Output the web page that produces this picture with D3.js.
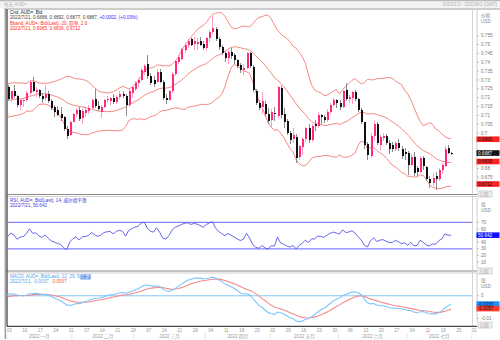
<!DOCTYPE html>
<html><head><meta charset="utf-8">
<script src="https://cdn.jsdelivr.net/npm/d3@7"></script>
<style>
body{margin:0;background:#fff}
svg{display:block}
text{font-family:"Liberation Sans","Noto Sans CJK SC",sans-serif}
</style></head>
<body><svg id="c" width="500" height="340"></svg>
<script>
// ---------- DATA ----------
// warm-up closes (Oct-Dec 2021), used only to seed the indicators
const warmupClose = [
.7240,.7290,.7280,.7270,.7300,.7310,.7340,.7330,.7390,.7410,.7420,.7430,.7480,.7500,.7460,.7460,.7490,.7490,.7500,.7530,.7520,
.7520,.7420,.7440,.7400,.7400,.7415,.7410,.7320,.7280,.7330,.7320,.7280,.7260,.7270,.7230,.7230,.7220,.7190,.7190,.7130,.7135,.7130,
.7090,.7090,.7030,.7060,.7140,.7160,.7130,.7160,.7130,.7120,.7160,.7180,.7120,.7120,.7180,.7210,.7230,.7230,.7240,.7220,.7230,.7250,.7265];

const open = [
.7262,.7192,.7235,.7210,.7160, .7180,.7188,.7225,.7288,.7230, .7245,.7210,.7200,.7220,.7180, .7145,.7130,.7110,.7090,.7025,
.6990,.7065,.7105,.7130,.7085, .7115,.7125,.7140,.7190,.7155, .7120,.7150,.7185,.7180,.7200, .7175,.7205,.7220,.7210,.7160,
.7225,.7250,.7285,.7300,.7345, .7390,.7320,.7300,.7290,.7345, .7290,.7200,.7185,.7240,.7335, .7400,.7420,.7470,.7495,.7530,
.7505,.7505,.7520,.7505,.7480, .7535,.7570,.7590,.7530,.7485, .7455,.7425,.7460,.7440,.7410, .7385,.7355,.7370,.7450,.7375,
.7240,.7170,.7150,.7165,.7110, .7075,.7115,.7095,.7255,.7105, .7070,.7000,.6965,.6980,.6865, .6920,.6965,.7030,.6960,.7050,
.7040,.7100,.7090,.7075,.7120, .7160,.7185,.7170,.7150,.7245, .7195,.7200,.7230,.7195,.7130, .7060,.6940,.6870,.6985,.7050,
.6935,.6970,.6985,.6945,.6935, .6910,.6945,.6910,.6895,.6890, .6820,.6865,.6800,.6780,.6860, .6810,.6740,.6715,.6760,.6740,
.6790,.6815,.6915,.6888];
const high = [
.7274,.7240,.7270,.7215,.7195, .7195,.7235,.7300,.7314,.7262, .7250,.7225,.7270,.7235,.7190, .7160,.7155,.7150,.7095,.7040,
.7070,.7115,.7140,.7150,.7135, .7145,.7160,.7195,.7250,.7180, .7160,.7195,.7210,.7205,.7220, .7215,.7235,.7240,.7220,.7250,
.7265,.7295,.7310,.7365,.7390, .7441,.7340,.7320,.7360,.7360, .7300,.7220,.7245,.7345,.7415, .7440,.7480,.7510,.7530,.7535,
.7540,.7535,.7540,.7520,.7545, .7580,.7661,.7600,.7545,.7500, .7465,.7470,.7480,.7455,.7420, .7395,.7390,.7460,.7460,.7385,
.7250,.7185,.7230,.7180,.7140, .7135,.7150,.7265,.7265,.7140, .7080,.7010,.7030,.6995,.6935, .6975,.7035,.7050,.7050,.7075,
.7120,.7110,.7100,.7135,.7170, .7200,.7190,.7185,.7245,.7283, .7215,.7240,.7245,.7200,.7140, .7065,.6950,.7000,.7070,.7060,
.6990,.7000,.6995,.6960,.6950, .6955,.6965,.6925,.6915,.6900, .6880,.6895,.6815,.6870,.6870, .6815,.6755,.6775,.6780,.6800,
.6830,.6925,.6935,.6892];
const low = [
.7180,.7175,.7200,.7150,.7130, .7145,.7175,.7215,.7230,.7205, .7200,.7170,.7180,.7170,.7130, .7090,.7095,.7070,.7010,.6968,
.6985,.7060,.7090,.7070,.7050, .7090,.7110,.7130,.7140,.7125, .7085,.7140,.7170,.7160,.7165, .7165,.7190,.7200,.7094,.7150,
.7200,.7235,.7260,.7295,.7330, .7305,.7270,.7260,.7280,.7280, .7185,.7165,.7180,.7225,.7320, .7390,.7410,.7455,.7480,.7490,
.7470,.7470,.7490,.7470,.7465, .7515,.7560,.7520,.7470,.7440, .7400,.7390,.7420,.7390,.7370, .7340,.7330,.7360,.7365,.7230,
.7160,.7130,.7110,.7090,.7050, .7030,.7070,.7085,.7085,.7030, .6990,.6940,.6945,.6829,.6850, .6875,.6950,.6945,.6950,.7010,
.7030,.7050,.7055,.7060,.7110, .7150,.7140,.7130,.7140,.7180, .7170,.7165,.7180,.7120,.7050, .6910,.6850,.6860,.6955,.6935,
.6905,.6955,.6930,.6880,.6895, .6900,.6900,.6855,.6845,.6765, .6815,.6760,.6760,.6775,.6790, .6730,.6690,.6700,.6681,.6730,
.6770,.6810,.6880,.6877];
const close = [
.7192,.7235,.7210,.7160,.7185, .7188,.7225,.7290,.7240,.7245, .7210,.7190,.7220,.7180,.7140, .7120,.7100,.7085,.7025,.6985,
.7065,.7105,.7130,.7080,.7125, .7130,.7140,.7185,.7155,.7135, .7150,.7185,.7195,.7200,.7175, .7205,.7220,.7210,.7160,.7235,
.7260,.7285,.7300,.7355,.7380, .7320,.7285,.7275,.7345,.7290, .7200,.7185,.7240,.7335,.7405, .7430,.7475,.7500,.7520,.7500,
.7520,.7515,.7500,.7480,.7535, .7570,.7595,.7530,.7485,.7455, .7425,.7460,.7435,.7410,.7380, .7355,.7370,.7450,.7380,.7245,
.7170,.7140,.7180,.7105,.7070, .7120,.7105,.7260,.7100,.7060, .7000,.6960,.6990,.6860,.6925, .6965,.7030,.6960,.7040,.7040,
.7100,.7090,.7075,.7120,.7160, .7185,.7170,.7150,.7240,.7195, .7205,.7230,.7195,.7130,.7065, .6935,.6875,.6985,.7050,.6945,
.6975,.6985,.6945,.6910,.6910, .6945,.6915,.6870,.6880,.6820, .6865,.6775,.6780,.6860,.6815, .6740,.6715,.6745,.6740,.6790,
.6820,.6910,.6885,.6887];

const weekLabels = ["03","10","17","24","31","07","14","21","28","07","14","21","28","04","11","18","25","02","09","16","23","30","06","13","20","27","04","11","18","25","01"];
const months = ["2022 一月","2022 二月","2022 三月","2022 四月","2022 五月","2022 六月","2022 七月"];
const monthStart = [0,21,41,64,85,107,129,150];   // bar index of first trading day of each month
const priceTicks = [0.755,0.75,0.745,0.74,0.735,0.73,0.725,0.72,0.715,0.71,0.705,0.7,0.695,0.69,0.685,0.68,0.675,0.67];
const rsiTicks = [70,60,50,40,30,20,10];
const macdTicks = [0,-0.01];
const bandLast = [0.6965,0.6839,0.6712];  // upper, middle, lower (legend)
const rsiLast = 50.642;
const macdLast = [-0.0037,-0.0057];

// ---------- INDICATORS ----------
const allClose = warmupClose.concat(close);
const W = warmupClose.length;
function sma(a,n,i){return d3.mean(a.slice(i-n+1,i+1));}
const bb = close.map((c,k)=>{const i=k+W;const s=allClose.slice(i-19,i+1);const m=d3.mean(s);
  const sd=Math.sqrt(d3.mean(s,v=>(v-m)*(v-m)));return {m,u:m+2*sd,l:m-2*sd};});
function ema(a,n){const k=2/(n+1);const out=[];let e=a[0];a.forEach((v,i)=>{e=i===0?v:v*k+e*(1-k);out.push(e);});return out;}
const e12=ema(allClose,12), e26=ema(allClose,26);
const macdAll=allClose.map((v,i)=>e12[i]-e26[i]);
const sigAll=ema(macdAll,9);
const macd=macdAll.slice(W), sig=sigAll.slice(W);
// Wilder RSI 14
let ag=0,al=0;const rsiAll=[];
for(let i=1;i<allClose.length;i++){const d=allClose[i]-allClose[i-1];const g=Math.max(d,0),l=Math.max(-d,0);
  if(i<=14){ag+=g/14;al+=l/14;} else {ag=(ag*13+g)/14;al=(al*13+l)/14;}
  rsiAll[i]=100-100/(1+ag/al);}
const rsi=rsiAll.slice(W);

// ---------- SCALES ----------
const svg=d3.select("#c");
const PL=7, PR=472.5;
const x=d3.scaleLinear().domain([0,150]).range([7.8,472.8]);
const yP=d3.scaleLinear().domain([0.675,0.755]).range([177.3,35.7]);
const yR=d3.scaleLinear().domain([0,100]).range([268.6,202.6]);
const yM=d3.scaleLinear().domain([-0.01,0]).range([318.3,295.7]);
const FS=4.6;

// background / frame
svg.append("rect").attr("x",0).attr("y",0).attr("width",500).attr("height",8).attr("fill","#f3f3f3");
svg.append("rect").attr("x",0).attr("y",0).attr("width",500).attr("height",1.2).attr("fill","#b8b8b8");
svg.append("text").attr("x",4).attr("y",5.6).attr("font-size",FS).attr("fill","#b0b0b0").text("每天 AUD=");
svg.append("text").attr("x",497).attr("y",5.6).attr("font-size",FS).attr("fill","#b0b0b0").attr("text-anchor","end").text("2022/1/3 - 2022/8/2 (GMT)");

const defs=svg.append("defs");
function clip(id,y0,y1){defs.append("clipPath").attr("id",id).append("rect").attr("x",PL).attr("y",y0).attr("width",PR-PL).attr("height",y1-y0);}
clip("cm",9,194);clip("cr",197,270);clip("cd",273,326);

// panel borders
svg.append("line").attr("x1",PL).attr("x2",500).attr("y1",9).attr("y2",9).attr("stroke","#9a9a9a").attr("stroke-width",1);
[[194.5,"#8a8a8a"],[196.5,"#d0d0d0"],[271,"#8a8a8a"],[273,"#d0d0d0"]].forEach(([yy,c])=>
  svg.append("line").attr("x1",PL).attr("x2",477).attr("y1",yy).attr("y2",yy).attr("stroke",c).attr("stroke-width",1.2));
svg.append("line").attr("x1",PR).attr("x2",PR).attr("y1",9).attr("y2",326).attr("stroke","#c8c8c8").attr("stroke-width",0.8);
svg.append("line").attr("x1",5.2).attr("x2",5.2).attr("y1",8).attr("y2",339).attr("stroke","#777").attr("stroke-width",1);
svg.append("line").attr("x1",7).attr("x2",7).attr("y1",9).attr("y2",326.5).attr("stroke","#444").attr("stroke-width",1.3);
svg.append("line").attr("x1",PL).attr("x2",477).attr("y1",326.3).attr("y2",326.3).attr("stroke","#444").attr("stroke-width",1.3);

// ---------- MAIN PANEL ----------
const gm=svg.append("g").attr("clip-path","url(#cm)");
const line=(acc,ys)=>d3.line().x((d,i)=>x(i)).y(d=>ys(acc(d)));
["u","m","l"].forEach(k=>gm.append("path").datum(bb).attr("d",line(d=>d[k],yP)).attr("fill","none").attr("stroke","#f47a74").attr("stroke-width",0.9));
const cg=gm.append("g").attr("shape-rendering","crispEdges");
close.forEach((c,i)=>{const up=c>=open[i];const xx=Math.round(x(i));
  cg.append("line").attr("x1",xx+0.5).attr("x2",xx+0.5).attr("y1",yP(high[i])).attr("y2",yP(low[i])).attr("stroke",up?"#ff9cc0":"#8a8a8a").attr("stroke-width",1);
  const y1=yP(Math.max(c,open[i])), y2=yP(Math.min(c,open[i]));
  cg.append("rect").attr("x",xx-0.5).attr("width",2).attr("y",y1).attr("height",Math.max(1,y2-y1)).attr("fill",up?"#ff2a7f":"#111");});

// headers
function hdr(yy,parts){const t=svg.append("text").attr("x",10).attr("y",yy).attr("font-size",FS);
  parts.forEach(([s,c,bg])=>t.append("tspan").attr("fill",c).text(s));return t;}
hdr(13.8,[["Cnd, AUD=, Bid","#222"]]);
hdr(19.2,[["2022/7/21, 0.6888, 0.6892, 0.6877, 0.6887, ","#444"],["+0.0002, (+0.03%)","#3030ff"]]);
hdr(24.6,[["Bband, AUD=, Bid(Last), 20, 简单, 2.0","#ff2a2a"]]);
hdr(30,[["2022/7/21, 0.6965, 0.6839, 0.6712","#ff2a2a"]]);

// right axes
function rightAxis(scale,ticks,fmt,boxes,yTop,unit,top){
  const g=svg.append("g").attr("transform","translate(477,0)");
  g.append("line").attr("x1",0).attr("x2",0).attr("y1",top).attr("y2",yTop).attr("stroke","#c0c0c0").attr("stroke-width",0.8);
  ticks.forEach(t=>{const yy=scale(t);if(boxes.some(b=>Math.abs(scale(b[0])-yy)<4.5))return;
    g.append("line").attr("x1",0).attr("x2",2).attr("y1",yy).attr("y2",yy).attr("stroke","#999").attr("stroke-width",0.6);
    g.append("text").attr("x",4).attr("y",yy+1.6).attr("font-size",FS).attr("fill","#777").text(fmt(t));});
  boxes.forEach(([v,bg,fg,label])=>{const yy=scale(v);
    g.append("rect").attr("x",-0.5).attr("y",yy-2.8).attr("width",23).attr("height",5.6).attr("fill",bg);
    g.append("text").attr("x",1).attr("y",yy+1.6).attr("font-size",FS).attr("fill",fg).text(label);});
  g.append("text").attr("x",4).attr("y",top+8).attr("font-size",FS).attr("fill","#888").text(unit);
  g.append("text").attr("x",4).attr("y",top+14).attr("font-size",FS).attr("fill","#888").text("USD");
}
const pf=d3.format("");
rightAxis(yP,priceTicks,t=>+t.toFixed(3)+"",[[bandLast[0],"#ff2222","#111","0.6965"],[close[close.length-1],"#111","#fff","0.6887"],[bandLast[1],"#ff2222","#111","0.6839"],[bandLast[2],"#ff2222","#111","0.6712"]],190,"价格",9);
rightAxis(yR,rsiTicks,t=>t+"",[[rsiLast,"#1010ff","#fff","50.642"]],268,"值",198);
rightAxis(yM,macdTicks,t=>t===0?"0":"-0.01",[[macdLast[0],"#1a8fff","#111","-0.0037"],[macdLast[1],"#ff3a2a","#111","-0.0057"]],322,"值",274);

// 日期 boxes
[194,271,325].forEach(yy=>{svg.append("rect").attr("x",478).attr("y",yy-3).attr("width",14).attr("height",6).attr("fill","#f0f0f0").attr("stroke","#bbb").attr("stroke-width",0.6);
  svg.append("text").attr("x",479.5).attr("y",yy+1.6).attr("font-size",FS).attr("fill","#aaa").text("日期");});

// ---------- RSI PANEL ----------
const gr=svg.append("g").attr("clip-path","url(#cr)");
[70,30].forEach(v=>gr.append("line").attr("x1",PL).attr("x2",PR).attr("y1",yR(v)).attr("y2",yR(v)).attr("stroke","#8484ff").attr("stroke-width",1.3));
gr.append("path").datum(rsi).attr("d",line(d=>d,yR)).attr("fill","none").attr("stroke","#5656e8").attr("stroke-width",0.9);
hdr(201.5,[["RSI, AUD=, Bid(Last), 14, 威尔德平滑","#3a3ad8"]]);
hdr(206.8,[["2022/7/21, 50.642","#3a3ad8"]]);

// ---------- MACD PANEL ----------
const gd=svg.append("g").attr("clip-path","url(#cd)");
gd.append("line").attr("x1",PL).attr("x2",PR).attr("y1",yM(0)).attr("y2",yM(0)).attr("stroke","#86c8f4").attr("stroke-width",1.1);
gd.append("path").datum(sig).attr("d",line(d=>d,yM)).attr("fill","none").attr("stroke","#f48a8a").attr("stroke-width",1.1);
gd.append("path").datum(macd).attr("d",line(d=>d,yM)).attr("fill","none").attr("stroke","#7cc6ff").attr("stroke-width",1.1);
const mh=hdr(278,[["MACD, AUD=, Bid(Last), 12, 26, 9, ","#4aa8f0"]]);
const mw=mh.node().getComputedTextLength();
svg.append("rect").attr("x",10+mw-0.3).attr("y",274.4).attr("width",10).attr("height",5).attr("fill","#3b7de8");
svg.append("text").attr("x",10+mw).attr("y",278).attr("font-size",FS).attr("fill","#fff").text("指数");
hdr(283.3,[["2022/7/21, -0.0037, ","#4aa8f0"],["-0.0057","#ff5a4a"]]);

// ---------- X AXIS ----------
const weekIdx=d3.range(0,151,5);
const xa=svg.append("g");
weekIdx.forEach((i,k)=>xa.append("text").attr("x",x(i)+1.5).attr("y",332).attr("font-size",FS).attr("fill","#999").attr("text-anchor","middle").text(weekLabels[k]));
monthStart.forEach(i=>xa.append("line").attr("x1",x(i)-1).attr("x2",x(i)-1).attr("y1",333.5).attr("y2",339).attr("stroke","#ccc").attr("stroke-width",0.6));
months.forEach((m,k)=>xa.append("text").attr("x",(x(monthStart[k])+x(monthStart[k+1]))/2-1).attr("y",337.8).attr("font-size",FS).attr("fill","#999").attr("text-anchor","middle").text(m));
</script></body></html>
